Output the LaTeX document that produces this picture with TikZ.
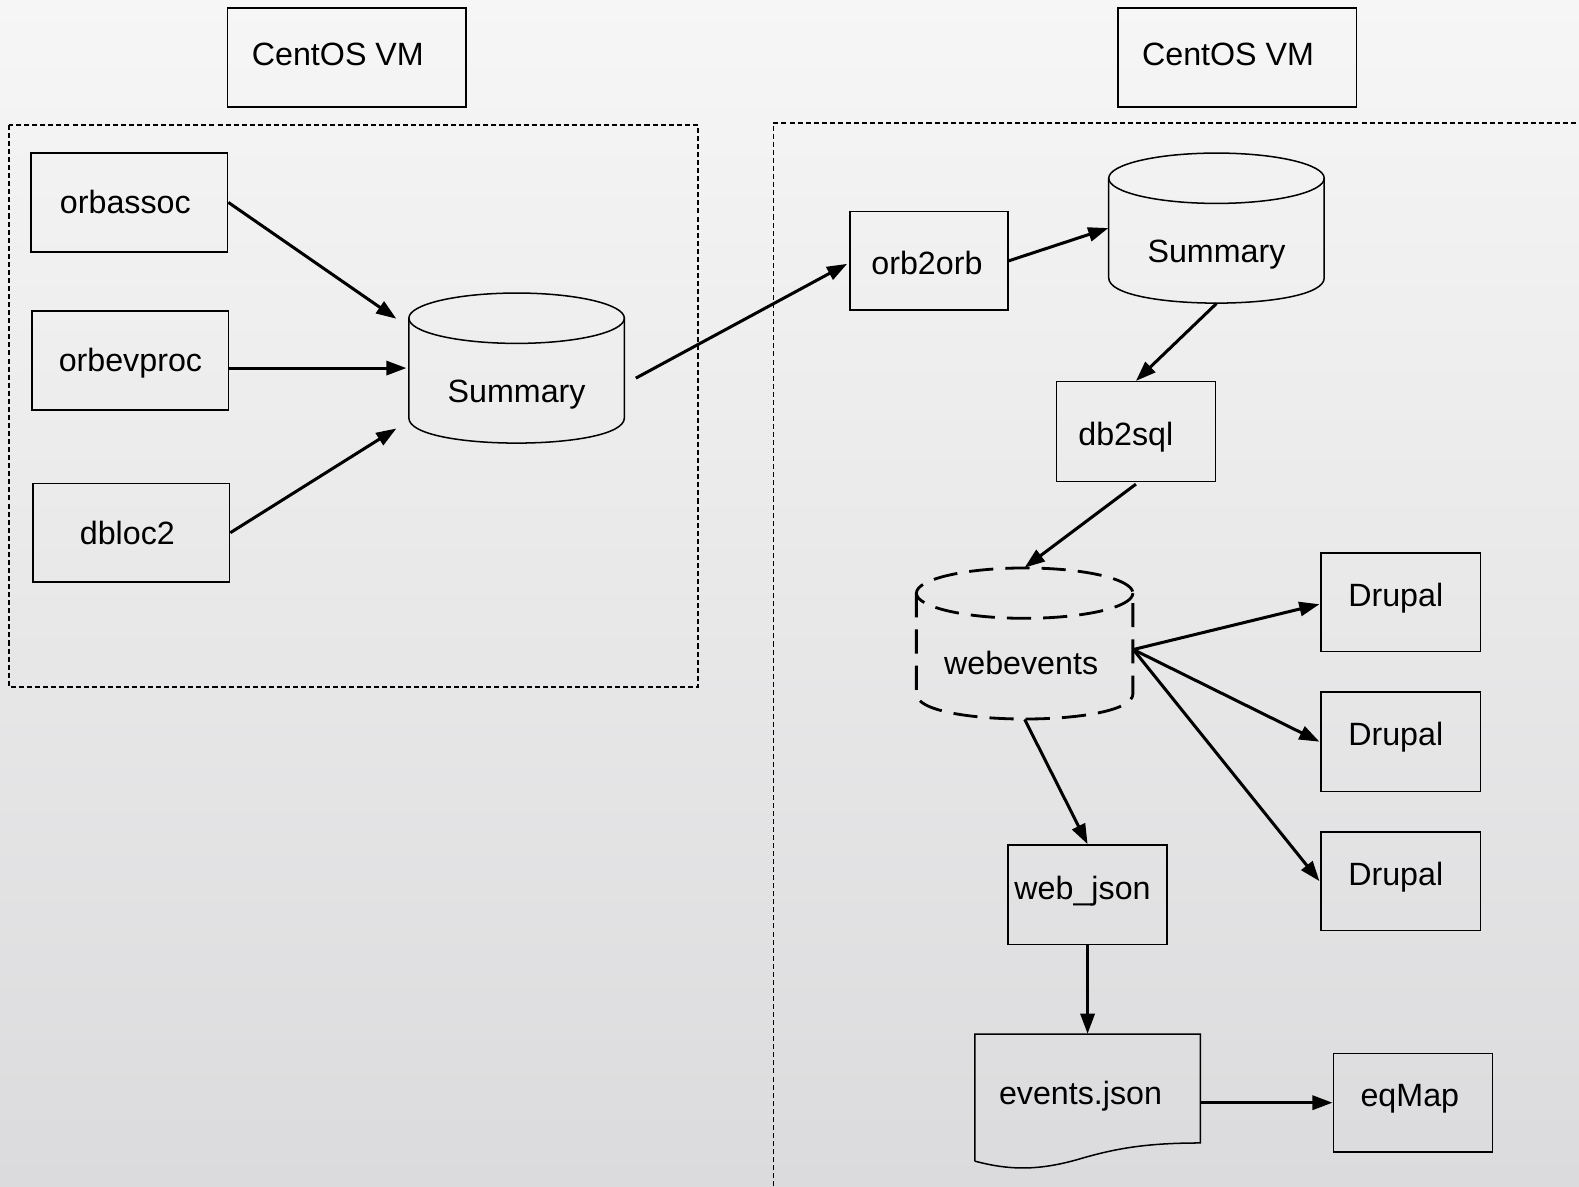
\documentclass[tikz,border=0pt]{standalone}
\usepackage{fontspec}
\setmainfont{Liberation Sans}
\usetikzlibrary{arrows.meta,calc}
\newcommand\drawcylshape[6]{%
  \draw[#1] ({(#2+#3)/2},{#4+#6}) ellipse[x radius={(#3-#2)/2}, y radius=#6];
  \draw[#1] (#2,{#4+#6}) -- (#2,{#5-#6}) .. controls (#2,{#5+#6/3}) and (#3,{#5+#6/3}) .. (#3,{#5-#6}) -- (#3,{#4+#6});
}
% shift box text: #1 = left shift (px), #2 = raise, #3 = text
\newcommand\bt[3]{\raisebox{#2}[\height][\depth]{\kern-#1pt #3}}
\begin{document}
\begin{tikzpicture}[x=0.5pt,y=-0.5pt,
  txt/.style={font=\fontsize{16pt}{19pt}\selectfont, inner sep=0pt},
  box/.style 2 args={draw, line width=0.75pt, minimum width=#1*0.5pt, minimum height=#2*0.5pt, inner sep=0pt, font=\fontsize{16pt}{19pt}\selectfont},
  shp/.style 2 args={minimum width=#1*0.5pt, minimum height=#2*0.5pt, inner sep=0pt},
  arr/.style={line width=1.5pt, -{Triangle[length=10pt,width=7pt]}},
  grp/.style={line width=0.75pt, dash pattern=on 2.5pt off 1.5pt},
  cyl/.style={line width=0.75pt},
  dcyl/.style={line width=1.4pt, dash pattern=on 12pt off 6pt}]
\useasboundingbox (0,0) rectangle (1568,1178);
\shade[top color={rgb,255:red,246;green,246;blue,246}, bottom color={rgb,255:red,219;green,219;blue,221}] (0,0) rectangle (1568,1178);

% group frames
\draw[grp] (9,124) rectangle (693,682);
\draw[grp] (768,1178) -- (768,122) -- (1568,122);

% VM labels
\node[box={237}{98}] (vm1) at (344.5,57) {\bt{9}{1.5pt}{CentOS VM}};
\node[box={237}{98}] (vm2) at (1228.5,57) {\bt{9}{1.5pt}{CentOS VM}};

% left side
\node[box={195}{98}] (orbassoc) at (128.5,201) {\bt{4}{0pt}{orbassoc}};
\node[box={195}{98}] (orbevproc) at (129.5,358) {\bt{0}{-1.5pt}{orbevproc}};
\node[box={195}{98}] (dbloc2) at (130.5,529) {\bt{4}{0pt}{dbloc2}};
\drawcylshape{cyl}{406}{620}{291}{440}{25}
\node[shp={214}{149}] (sumL) at (513,365.5) {};
\node[txt] (sumLtxt) at (513,392) {Summary};

% right side
\node[box={157}{98}] (orb2orb) at (922.5,259) {\bt{2}{-1pt}{orb2orb}};
\drawcylshape{cyl}{1101}{1315}{152}{301}{25}
\node[shp={214}{149}] (sumR) at (1208,226.5) {};
\node[txt] (sumRtxt) at (1208,253) {Summary};
\node[box={158}{99}] (db2sql) at (1128,428.5) {\bt{10}{-3pt}{db2sql}};
\drawcylshape{dcyl}{910}{1125}{564}{714}{25}
\node[shp={215}{150}] (web) at (1017.5,639) {};
\node[txt] (webtxt) at (1014,658) {webevents};
\node[box={158}{98}] (drupal1) at (1391,598) {\bt{5}{2pt}{Drupal}};
\node[box={158}{99}] (drupal2) at (1391,736.5) {\bt{5}{2pt}{Drupal}};
\node[box={158}{98}] (drupal3) at (1391,875) {\bt{5}{2pt}{Drupal}};
\node[box={158}{99}] (webjson) at (1080,888.5) {\bt{5}{2pt}{web\_json}};
\node[shp={224}{128}] (events) at (1080,1091) {};
\draw[line width=0.75pt] (968,1153) -- (968,1027) -- (1192,1027) -- (1192,1135)
  .. controls (1140,1135) and (1110,1140) .. (1075,1150)
  .. controls (1035,1162) and (1005,1163) .. (968,1153);
\node[txt] (eventstxt) at (1073,1089) {events.json};
\node[box={158}{98}] (eqmap) at (1403,1095) {\bt{3}{2pt}{eqMap}};

% connectors
\draw[arr] (orbassoc.east) -- ($(sumL.west)+(-12,-49)$);
\draw[arr] (orbevproc.east |- sumL.west) -- ($(sumL.west)+(-2,0)$);
\draw[arr] (dbloc2.east) -- ($(sumL.west)+(-12,60)$);
\draw[arr] ($(sumL.east)+(11,10)$) -- ($(orb2orb.west)+(-2,3)$);
\draw[arr] (orb2orb.east) -- (sumR.west);
\draw[arr] (sumR.south) -- (db2sql.north);
\draw[arr] ($(db2sql.south)+(0,2)$) -- (web.north);
\draw[arr] ($(web.east)+(0,6)$) -- ($(drupal1.west)+(-1,2)$);
\draw[arr] ($(web.east)+(0,6)$) -- ($(drupal2.west)+(-1,0)$);
\draw[arr] ($(web.east)+(0,6)$) -- ($(drupal3.west)+(-1,0)$);
\draw[arr] (web.south) -- (webjson.north);
\draw[arr] (webjson.south) -- (events.north);
\draw[arr] (events.east |- eqmap.west) -- (eqmap.west);
\end{tikzpicture}
\end{document}
